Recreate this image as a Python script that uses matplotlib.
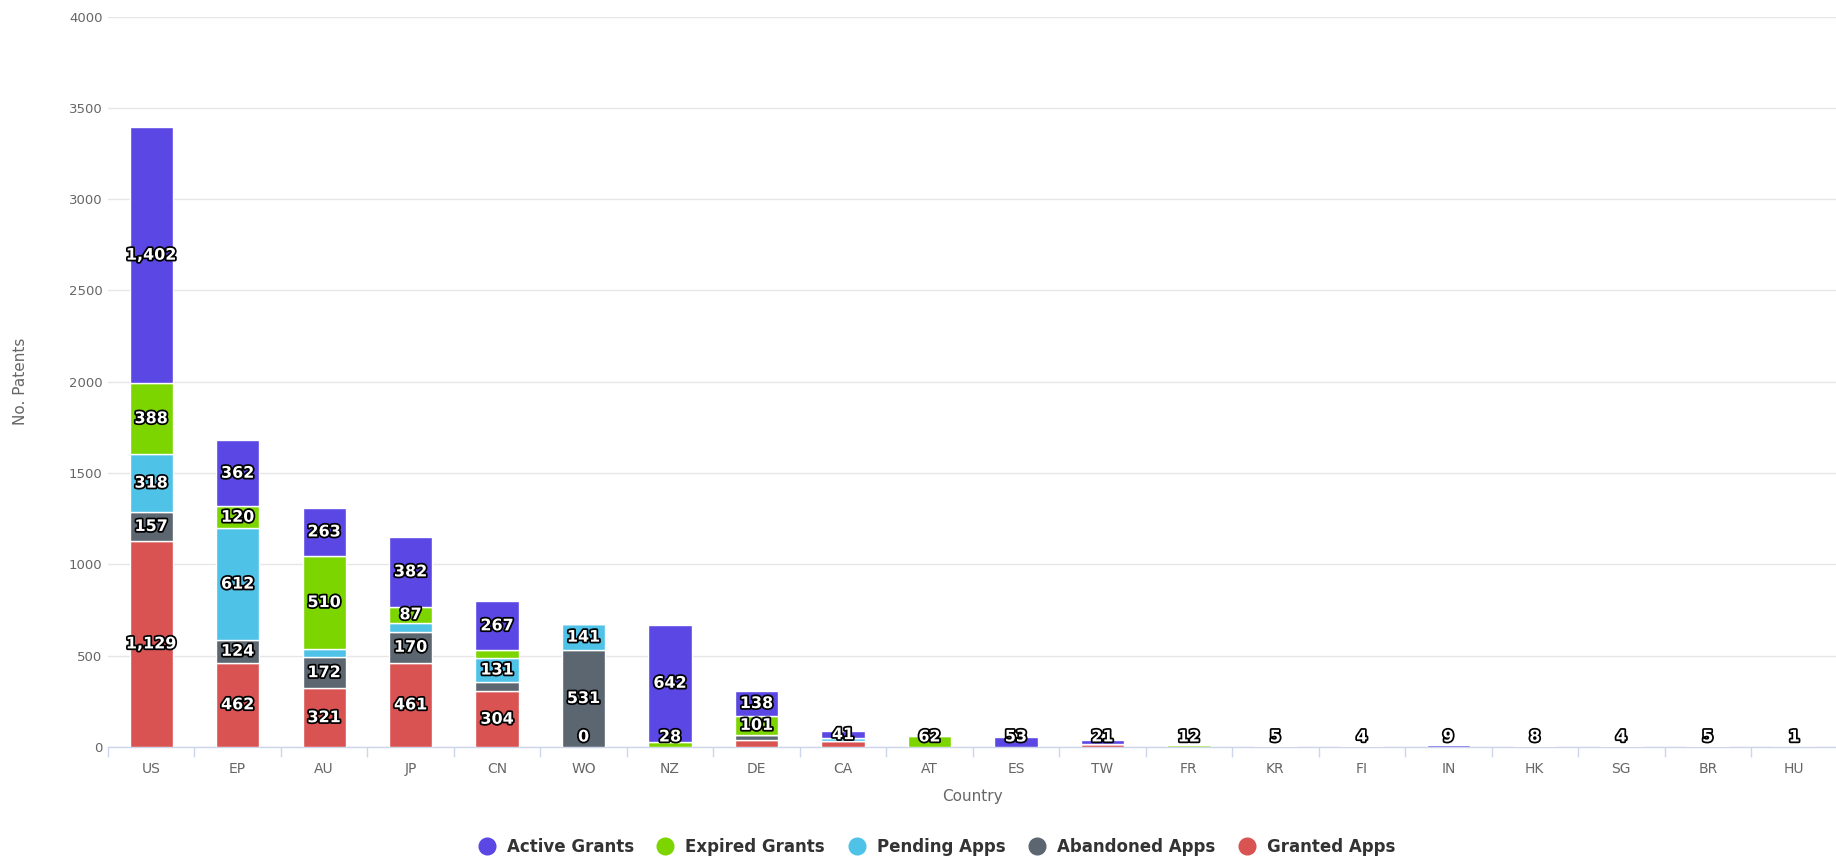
import numpy as np
import matplotlib
matplotlib.use("Agg")
import matplotlib.pyplot as plt
import matplotlib.patheffects as pe
from matplotlib.lines import Line2D

countries = ["US", "EP", "AU", "JP", "CN", "WO", "NZ", "DE", "CA", "AT",
             "ES", "TW", "FR", "KR", "FI", "IN", "HK", "SG", "BR", "HU"]

# stacked bottom -> top
granted   = [1129, 462, 321, 461, 304, 0, 0, 40, 35, 0, 0, 17, 0, 0, 0, 0, 0, 0, 0, 0]
abandoned = [157, 124, 172, 170, 52, 531, 0, 28, 0, 0, 0, 0, 0, 0, 0, 0, 0, 0, 0, 0]
pending   = [318, 612, 43, 50, 131, 141, 0, 0, 12, 0, 0, 0, 0, 0, 0, 0, 0, 0, 0, 0]
expired   = [388, 120, 510, 87, 43, 0, 28, 101, 0, 62, 0, 0, 12, 0, 0, 0, 0, 0, 0, 0]
active    = [1402, 362, 263, 382, 267, 0, 642, 138, 41, 0, 53, 21, 0, 5, 4, 9, 8, 4, 5, 1]

series_names = ["Granted Apps", "Abandoned Apps", "Pending Apps", "Expired Grants", "Active Grants"]
series_vals = [granted, abandoned, pending, expired, active]
colors = ["#d95353", "#5c6670", "#4fc2e8", "#7dd500", "#5a47e4"]

# labels hidden by overlap in the original, and the one zero that is shown
hidden_labels = [("Pending Apps", "AU"), ("Pending Apps", "JP"), ("Abandoned Apps", "CN"),
                 ("Expired Grants", "CN"), ("Granted Apps", "DE"), ("Abandoned Apps", "DE"),
                 ("Granted Apps", "CA"), ("Pending Apps", "CA"), ("Granted Apps", "TW")]
zero_labels = [("Granted Apps", "WO")]

fig = plt.figure(figsize=(18.36, 8.64), dpi=100)
ax = fig.add_axes([0.0588, 0.1354, 0.942, 0.8455])

x = np.arange(len(countries))
bottom = np.zeros(len(countries))
for name, vals, col in zip(series_names, series_vals, colors):
    v = np.array(vals, dtype=float)
    ax.bar(x, v, width=0.5, bottom=bottom, color=col, edgecolor="white",
           linewidth=1, zorder=3)
    for i, c in enumerate(countries):
        if (name, c) in hidden_labels:
            continue
        if v[i] == 0 and (name, c) not in zero_labels:
            continue
        y = max(bottom[i] + v[i] / 2, 55)
        ax.text(x[i], y, f"{int(v[i]):,}", ha="center", va="center",
                fontsize=11.5, fontweight="bold", color="white", zorder=5,
                path_effects=[pe.withStroke(linewidth=2.5, foreground="black")])
    bottom += v

ax.set_xlim(-0.5, len(countries) - 0.5)
ax.set_ylim(0, 4000)
ax.set_yticks(np.arange(0, 4001, 500))
ax.yaxis.grid(True, color="#e6e6e6", linewidth=1, zorder=0)
ax.set_axisbelow(True)
for s in ["top", "right", "left"]:
    ax.spines[s].set_visible(False)
ax.spines["bottom"].set_color("#ccd6eb")
ax.spines["bottom"].set_linewidth(1)

ax.set_xticks(x)
ax.set_xticklabels(countries)
ax.set_xticks(np.arange(-0.5, len(countries), 1), minor=True)
ax.tick_params(axis="x", which="major", length=0, pad=11, labelsize=10, labelcolor="#666666")
ax.tick_params(axis="x", which="minor", length=7.5, width=1, color="#ccd6eb", direction="out")
ax.tick_params(axis="y", length=0, pad=4, labelsize=9.5, labelcolor="#666666")

ax.set_xlabel("Country", fontsize=11, color="#666666")
ax.xaxis.set_label_coords(0.5, -0.057)
ax.set_ylabel("No. Patents", fontsize=11, color="#666666")
ax.yaxis.set_label_coords(-0.046, 0.5)

handles = [Line2D([0], [0], marker="o", linestyle="", markersize=12,
                  markerfacecolor=colors[k], markeredgecolor=colors[k])
           for k in range(4, -1, -1)]
labels = [series_names[k] for k in range(4, -1, -1)]
fig.legend(handles, labels, loc="center", bbox_to_anchor=(0.508, 0.02), ncol=5,
           frameon=False, handletextpad=0.2, columnspacing=0.9,
           prop={"weight": "bold", "size": 12}, labelcolor="#333333")

plt.savefig("out.png", dpi=100)
